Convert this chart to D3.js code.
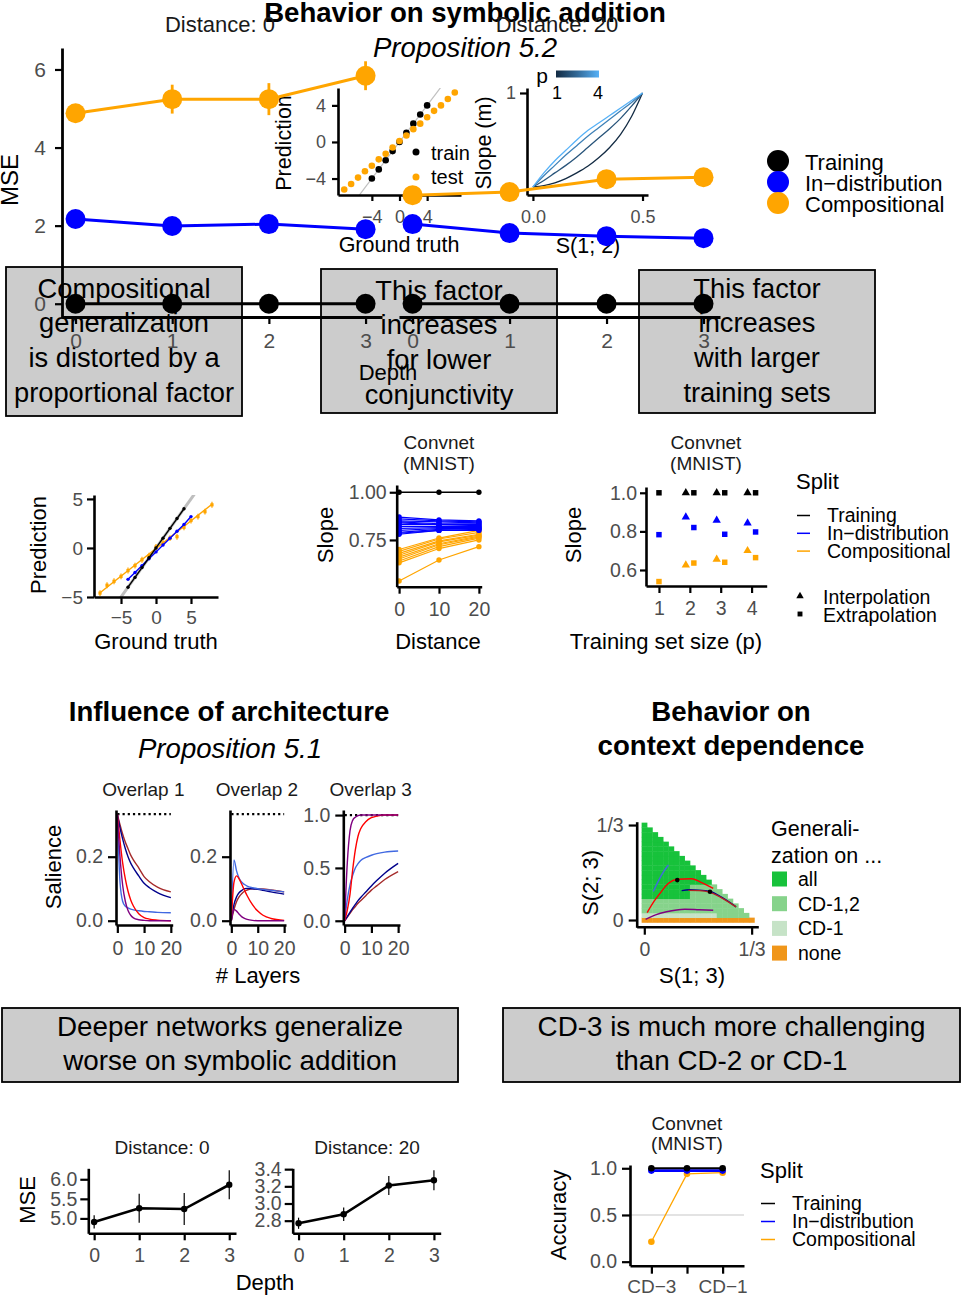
<!DOCTYPE html>
<html><head><meta charset="utf-8">
<script src="https://cdn.jsdelivr.net/npm/d3@7"></script>
<style>body{margin:0;background:#fff}svg{display:block}</style>
</head><body>
<svg id="chart" width="961" height="1295"></svg>
<script>
// ================= DATA =================
// Shared split names / colours
const splitNames = ["Training", "In−distribution", "Compositional"];
const splitCols = ["#000000", "#0000FF", "#FFA500"];

// Big (overlapping) plot: MSE by depth, two distance facets
const depthLevels = [0, 1, 2, 3];
const bigTrainD0 = [0, 0, 0, 0];
const bigIndD0 = [2.17, 1.99, 2.04, 1.91];
const bigCompD0 = [4.88, 5.24, 5.24, 5.84];
const bigCompErrD0 = [0.17, 0.37, 0.41, 0.37];
const bigTrainD20 = [0, 0, 0, 0];
const bigIndD20 = [2.04, 1.81, 1.73, 1.68];
const bigCompD20 = [2.78, 2.86, 3.19, 3.24];
const bigYTicks = [0, 2, 4, 6];
const bigFacets = ["Distance: 0", "Distance: 20"];

// Inset: prediction vs ground truth
const insTrainX = [-4, -3, -2, -1, 0, 1, 2, 3, 4];
const insTrainY = [-4, -3, -2, -1, 0, 1, 2, 3, 4];
const insTestX = [-8, -7, -6, -5, -4, -3, -2, -1, 0, 1, 2, 3, 4, 5, 6, 7, 8];
const insTestY = [-5.2, -4.6, -3.9, -3.2, -2.6, -1.9, -1.3, -0.6, 0.1, 0.7, 1.4, 2.0, 2.7, 3.4, 4.0, 4.7, 5.4];
const insTicks = [-4, 0, 4];

// Inset: slope (m) vs S(1;2), one curve per p
const pLevels = [1, 2, 3, 4];
const sVals = [0, 0.05, 0.1, 0.15, 0.2, 0.25, 0.3, 0.35, 0.4, 0.45, 0.5];
const slopeP1 = [0, 0.015, 0.045, 0.09, 0.15, 0.22, 0.31, 0.42, 0.56, 0.75, 1];
const slopeP2 = [0, 0.07, 0.15, 0.23, 0.32, 0.42, 0.52, 0.62, 0.73, 0.86, 1];
const slopeP3 = [0, 0.12, 0.23, 0.34, 0.44, 0.54, 0.63, 0.72, 0.81, 0.90, 1];
const slopeP4 = [0, 0.15, 0.28, 0.39, 0.50, 0.60, 0.68, 0.76, 0.84, 0.92, 1];

// Row 2 / row 5 boxes
const box1Lines = ["Compositional", "generalization", "is distorted by a", "proportional factor"];
const box2Lines = ["This factor", "increases", "for lower", "conjunctivity"];
const box3Lines = ["This factor", "increases", "with larger", "training sets"];
const box4Lines = ["Deeper networks generalize", "worse on symbolic addition"];
const box5Lines = ["CD-3 is much more challenging", "than CD-2 or CD-1"];

// Panel A: prediction vs ground truth (Convnet)
const aTrainX = [-4, -3, -2, -1, 0, 1, 2, 3, 4];
const aTrainY = [-4, -3, -2, -1, 0, 1, 2, 3, 4];
const aIndX = [-4, -3, -2, -1, 0, 1, 2, 3, 4, 5];
const aIndY = [-3.2, -2.5, -1.8, -1.1, -0.4, 0.3, 1.0, 1.7, 2.4, 3.2];
const aCompX = [-8, -7, -6, -5, -4, -3, -2, -1, 0, 1, 2, 3, 4, 5, 6, 7, 8];
const aCompY = [-4.6, -3.8, -3.4, -2.9, -2.3, -1.8, -1.2, -0.8, 0.1, 0.5, 1.0, 1.15, 2.1, 2.8, 3.2, 3.7, 4.4];
const aCompFitX = [-8, 8];
const aCompFitY = [-4.56, 4.46];
const aTicks = [-5, 0, 5];

// Panel B: slope vs distance (one line per run)
const distLevels = [0, 10, 20];
const bTrain = [1, 1, 1];
const bIndD0 = [0.87, 0.86, 0.85, 0.845, 0.84, 0.83, 0.82, 0.81, 0.80, 0.79, 0.785, 0.78];
const bIndD10 = [0.855, 0.85, 0.845, 0.835, 0.83, 0.83, 0.82, 0.815, 0.81, 0.805, 0.80, 0.80];
const bIndD20 = [0.85, 0.845, 0.84, 0.835, 0.83, 0.825, 0.82, 0.815, 0.81, 0.81, 0.805, 0.80];
const bCompD0 = [0.70, 0.69, 0.68, 0.67, 0.66, 0.65, 0.64, 0.63, 0.535];
const bCompD10 = [0.76, 0.755, 0.745, 0.74, 0.73, 0.725, 0.715, 0.705, 0.645];
const bCompD20 = [0.80, 0.79, 0.78, 0.775, 0.77, 0.765, 0.76, 0.75, 0.715];
const bYTicks = [0.75, 1.00];

// Panel C: slope vs training set size (interpolation / extrapolation)
const trainSizes = [1, 2, 3, 4];
const cInterpP = [2, 3, 4];
const cInterpTrain = [1, 1, 1];
const cInterpInd = [0.874, 0.857, 0.843];
const cInterpComp = [0.625, 0.655, 0.70];
const cExtrapP = [1, 2, 3, 4];
const cExtrapTrain = [1, 1, 1, 1];
const cExtrapInd = [0.783, 0.82, 0.785, 0.797];
const cExtrapComp = [0.54, 0.636, 0.64, 0.664];
const cYTicks = [0.6, 0.8, 1.0];

// Panel D: salience vs # layers (three overlaps)
const overlapNames = ["Overlap 1", "Overlap 2", "Overlap 3"];
const archCols = ["#A52A2A", "#00008B", "#4169E1", "#FF0000", "#800080"]; // brown, navy, royalblue, red, purple
const layerVals = [0, 1, 2, 3, 4, 5, 6, 8, 10, 12, 15, 20];
const ov1Brown = [0.333, 0.30, 0.27, 0.245, 0.225, 0.205, 0.19, 0.165, 0.138, 0.122, 0.105, 0.09];
const ov1Navy = [0.333, 0.29, 0.255, 0.225, 0.20, 0.18, 0.165, 0.14, 0.117, 0.103, 0.088, 0.072];
const ov1Blue = [0.333, 0.12, 0.06, 0.045, 0.04, 0.036, 0.034, 0.031, 0.029, 0.028, 0.026, 0.025];
const ov1Red = [0.333, 0.25, 0.18, 0.13, 0.092, 0.065, 0.046, 0.022, 0.01, 0.005, 0.002, 0];
const ov1Purple = [0.333, 0.20, 0.11, 0.06, 0.032, 0.017, 0.009, 0.003, 0.001, 0, 0, 0];
const ov2Brown = [0, 0.035, 0.06, 0.075, 0.085, 0.092, 0.096, 0.10, 0.10, 0.099, 0.096, 0.09];
const ov2Navy = [0, 0.05, 0.075, 0.088, 0.095, 0.10, 0.101, 0.10, 0.098, 0.095, 0.09, 0.083];
const ov2Blue = [0, 0.19, 0.155, 0.132, 0.12, 0.113, 0.108, 0.103, 0.10, 0.098, 0.095, 0.09];
const ov2Red = [0, 0.12, 0.14, 0.13, 0.113, 0.095, 0.078, 0.05, 0.03, 0.017, 0.007, 0.001];
const ov2Purple = [0, 0.035, 0.03, 0.02, 0.012, 0.007, 0.004, 0.001, 0, 0, 0, 0];
const ov3Brown = [0, 0.035, 0.07, 0.105, 0.135, 0.165, 0.19, 0.24, 0.29, 0.33, 0.39, 0.465];
const ov3Navy = [0, 0.04, 0.08, 0.12, 0.155, 0.19, 0.22, 0.275, 0.33, 0.38, 0.45, 0.543];
const ov3Blue = [0, 0.20, 0.34, 0.43, 0.50, 0.54, 0.57, 0.60, 0.62, 0.635, 0.65, 0.66];
const ov3Red = [0, 0.10, 0.25, 0.48, 0.67, 0.80, 0.87, 0.94, 0.975, 0.99, 1, 1];
const ov3Purple = [0, 0.55, 0.85, 0.95, 0.98, 0.995, 1, 1, 1, 1, 1, 1];
const ovRef = [1 / 3, 1 / 3, 1];

// Panel E: generalization regions on the S(1;3)-S(2;3) simplex (tile rows, bottom to top)
const regionNames = ["all", "CD-1,2", "CD-1", "none"];
const regionCodes = ["A", "2", "1", "N"];
const regionCols = ["#17C23B", "#86D38B", "#C6E3C7", "#F0961A"];
const tileRows = [
  "NNNNNNNNNNNNNNNNNNNNN",
  "11111111111111222222",
  "2222222222222222222",
  "222222222222222222",
  "22222222222222222",
  "AAAAAAAAA2222222",
  "AAAAAAAAA222222",
  "AAAAAAAAA22222",
  "AAAAAAAAAAAAA",
  "AAAAAAAAAAAA",
  "AAAAAAAAAAA",
  "AAAAAAAAAA",
  "AAAAAAAAA",
  "AAAAAAAA",
  "AAAAAAA",
  "AAAAAA",
  "AAAAA",
  "AAAA",
  "AAA",
  "AA",
  "A"
];
const eBlueX = [0.028, 0.045, 0.06, 0.075];
const eBlueY = [0.10, 0.14, 0.17, 0.193];
const eRedX = [0.009, 0.03, 0.049, 0.075, 0.1025, 0.147, 0.18, 0.214];
const eRedY = [0.026, 0.065, 0.094, 0.129, 0.143, 0.145, 0.13, 0.111];
const eNavyX = [0.116, 0.14, 0.17, 0.204, 0.24, 0.285];
const eNavyY = [0.103, 0.106, 0.105, 0.10, 0.08, 0.046];
const eBrownX = [0.137, 0.17, 0.204, 0.24, 0.285];
const eBrownY = [0.104, 0.103, 0.097, 0.078, 0.046];
const ePurpleX = [0.004, 0.035, 0.069, 0.126, 0.17, 0.214];
const ePurpleY = [0.002, 0.018, 0.029, 0.038, 0.036, 0.034];
const eDotX = [0.1025, 0.204];
const eDotY = [0.14, 0.099];

// Panel F: MSE by depth (small)
const fD0 = [4.91, 5.26, 5.24, 5.86];
const fD0Err = [0.17, 0.37, 0.41, 0.37];
const fD20 = [2.77, 2.875, 3.21, 3.27];
const fD20Err = [0.065, 0.078, 0.11, 0.117];
const fTicksD0 = [5.0, 5.5, 6.0];
const fTicksD20 = [2.8, 3.0, 3.2, 3.4];

// Panel G: accuracy by context-dependence level
const cdLevels = ["CD−3", "CD−2", "CD−1"];
const gTrain = [1.0, 1.0, 1.0];
const gInd = [0.975, 0.975, 0.975];
const gComp = [0.214, 0.94, 0.953];
const gYTicks = [0, 0.5, 1.0];

// ================= HELPERS =================
const FONT = '"Liberation Sans", Arial, Helvetica, sans-serif';
const svg = d3.select("#chart");
const defs = svg.append("defs");
const TICKGREY = "#4d4d4d";

function T(g, x, y, s, o = {}) {
  const t = g.append("text").attr("x", x).attr("y", y).attr("dy", "0.35em")
    .attr("text-anchor", o.a || "middle")
    .style("font-family", FONT).style("font-size", (o.s || 20) + "px")
    .style("font-weight", o.w || "normal").style("font-style", o.i ? "italic" : "normal")
    .attr("fill", o.c || "#000").text(s);
  if (o.r) t.attr("transform", `rotate(-90,${x},${y})`);
  return t;
}
function axis(g, scale, orient, pos, vals, fmt, o = {}) {
  const gen = orient === "left" ? d3.axisLeft(scale) : d3.axisBottom(scale);
  gen.tickValues(vals).tickFormat(fmt).tickSizeInner(o.tl ?? 7).tickSizeOuter(0).tickPadding(o.pad ?? 3);
  const a = g.append("g").attr("transform", orient === "left" ? `translate(${pos},0)` : `translate(0,${pos})`).call(gen);
  a.attr("font-family", null).attr("font-size", null);
  a.select(".domain").attr("stroke", "#000").attr("stroke-width", o.lw ?? 2.6).attr("fill", "none");
  a.selectAll(".tick line").attr("stroke", "#000").attr("stroke-width", o.tw ?? 2.2);
  a.selectAll(".tick text").attr("fill", TICKGREY).style("font-family", FONT).style("font-size", (o.fs || 19) + "px");
  return a;
}
function zip(xs, ys) { return xs.map((x, i) => [x, ys[i]]); }

// ================= ROW 2 BOXES =================
function box(x0, y0, x1, y1, lines, cy0, step, fs) {
  const g = svg.append("g");
  g.append("rect").attr("x", x0).attr("y", y0).attr("width", x1 - x0).attr("height", y1 - y0)
    .attr("fill", "#cccccc").attr("stroke", "#000").attr("stroke-width", 1.8);
  lines.forEach((l, i) => T(g, (x0 + x1) / 2, cy0 + i * step, l, { s: fs }));
}
box(6, 267, 242, 416, box1Lines, 288, 34.7, 27.3);
box(321, 269, 557, 413, box2Lines, 290, 34.7, 27.3);
box(639, 270, 875, 413, box3Lines, 288, 34.7, 27.3);

// ================= PANEL A =================
{
  const g = svg.append("g");
  const x = d3.scaleLinear().domain([-8.86, 8.86]).range([94, 218]);
  const y = d3.scaleLinear().domain([-5, 5.4]).range([597, 495]);
  defs.append("clipPath").attr("id", "clipA").append("rect").attr("x", 94).attr("y", 495).attr("width", 124).attr("height", 102);
  const line = d3.line().x(d => x(d[0])).y(d => y(d[1]));
  g.append("path").attr("clip-path", "url(#clipA)").attr("d", line([[-8.86, -8.86], [8.86, 8.86]]))
    .attr("stroke", "#bebebe").attr("stroke-width", 3).attr("fill", "none");
  // compositional
  g.append("path").attr("d", line(zip(aCompFitX, aCompFitY))).attr("stroke", splitCols[2]).attr("stroke-width", 1.4).attr("fill", "none");
  zip(aCompX, aCompY).forEach(d => {
    g.append("line").attr("x1", x(d[0])).attr("x2", x(d[0])).attr("y1", y(d[1] - 0.3)).attr("y2", y(d[1] + 0.3)).attr("stroke", splitCols[2]).attr("stroke-width", 1.2);
    g.append("rect").attr("x", x(d[0]) - 1.6).attr("y", y(d[1]) - 1.6).attr("width", 3.2).attr("height", 3.2).attr("fill", splitCols[2]);
  });
  // in-distribution
  g.append("path").attr("d", line(zip(aIndX, aIndY))).attr("stroke", splitCols[1]).attr("stroke-width", 1.4).attr("fill", "none");
  zip(aIndX, aIndY).forEach(d => g.append("circle").attr("cx", x(d[0])).attr("cy", y(d[1])).attr("r", 1.7).attr("fill", splitCols[1]));
  // training
  g.append("path").attr("d", line(zip(aTrainX, aTrainY))).attr("stroke", splitCols[0]).attr("stroke-width", 1.4).attr("fill", "none");
  zip(aTrainX, aTrainY).forEach(d => g.append("circle").attr("cx", x(d[0])).attr("cy", y(d[1])).attr("r", 1.7).attr("fill", splitCols[0]));
  axis(g, y, "left", 94, aTicks, d => d3.format("")(d).replace("-", "−"), { tl: 7, pad: 4 });
  axis(g, x, "bottom", 597, aTicks, d => d3.format("")(d).replace("-", "−"), { tl: 7, pad: 7 });
  T(g, 38, 545, "Prediction", { s: 22, r: true });
  T(g, 156, 641, "Ground truth", { s: 22 });
}

// ================= PANEL B =================
{
  const g = svg.append("g");
  const x = d3.scaleLinear().domain([-0.6, 20.7]).range([396.7, 481.7]);
  const y = d3.scaleLinear().domain([0.505, 1.038]).range([586.7, 485]);
  const line = d3.line().x(d => x(d[0])).y(d => y(d[1]));
  function run(vals, col, lw) {
    g.append("path").attr("d", line(zip(distLevels, vals))).attr("stroke", col).attr("stroke-width", lw).attr("fill", "none");
    vals.forEach((v, i) => g.append("circle").attr("cx", x(distLevels[i])).attr("cy", y(v)).attr("r", 2.7).attr("fill", col));
  }
  bCompD0.forEach((v, k) => run([bCompD0[k], bCompD10[k], bCompD20[k]], splitCols[2], 1.2));
  bIndD0.forEach((v, k) => run([bIndD0[k], bIndD10[k], bIndD20[k]], splitCols[1], 1.2));
  run(bTrain, splitCols[0], 1.4);
  axis(g, y, "left", 396.7, bYTicks, d3.format(".2f"), { tl: 7, pad: 3, fs: 19.5 });
  axis(g, x, "bottom", 586.7, distLevels, d3.format(""), { tl: 7, pad: 8, fs: 19.5 });
  T(g, 439, 442, "Convnet", { s: 19, c: "#1a1a1a" });
  T(g, 439, 463, "(MNIST)", { s: 19, c: "#1a1a1a" });
  T(g, 325, 535, "Slope", { s: 22, r: true });
  T(g, 438, 641, "Distance", { s: 22 });
}

// ================= PANEL C =================
{
  const g = svg.append("g");
  const x = d3.scaleLinear().domain([0.58, 4.49]).range([646, 766.7]);
  const y = d3.scaleLinear().domain([0.517, 1.03]).range([586, 487]);
  const tri = d3.symbol(d3.symbolTriangle, 30);
  const sq = d3.symbol(d3.symbolSquare, 30);
  const dodge = 0.13;
  [cInterpTrain, cInterpInd, cInterpComp].forEach((arr, s) => arr.forEach((v, i) =>
    g.append("path").attr("d", tri()).attr("transform", `translate(${x(cInterpP[i] - dodge)},${y(v)})`).attr("fill", splitCols[s])));
  [cExtrapTrain, cExtrapInd, cExtrapComp].forEach((arr, s) => arr.forEach((v, i) => {
    const p = cExtrapP[i];
    const xx = cInterpP.includes(p) ? p + dodge : p;
    g.append("path").attr("d", sq()).attr("transform", `translate(${x(xx)},${y(v)})`).attr("fill", splitCols[s]);
  }));
  axis(g, y, "left", 646, cYTicks, d3.format(".1f"), { tl: 6, pad: 3, fs: 19.5 });
  axis(g, x, "bottom", 586, trainSizes, d3.format(""), { tl: 7, pad: 8, fs: 19.5 });
  T(g, 706, 442, "Convnet", { s: 19, c: "#1a1a1a" });
  T(g, 706, 463, "(MNIST)", { s: 19, c: "#1a1a1a" });
  T(g, 573, 535, "Slope", { s: 22, r: true });
  T(g, 666, 641, "Training set size (p)", { s: 22 });
  // legend
  T(g, 796, 481, "Split", { s: 22, a: "start" });
  splitNames.forEach((n, i) => {
    const yy = 515.5 + i * 17.8;
    g.append("line").attr("x1", 797).attr("x2", 810).attr("y1", yy).attr("y2", yy).attr("stroke", splitCols[i]).attr("stroke-width", 1.5);
    T(g, 827, yy, n, { s: 19.5, a: "start" });
  });
  g.append("path").attr("d", d3.symbol(d3.symbolTriangle, 24)()).attr("transform", "translate(800,596)").attr("fill", "#000");
  T(g, 823, 597, "Interpolation", { s: 19.5, a: "start" });
  g.append("path").attr("d", d3.symbol(d3.symbolSquare, 24)()).attr("transform", "translate(800,614)").attr("fill", "#000");
  T(g, 823, 615, "Extrapolation", { s: 19.5, a: "start" });
}

// ================= PANEL D =================
{
  const g = svg.append("g");
  T(g, 229, 711, "Influence of architecture", { s: 27.6, w: "bold" });
  T(g, 230, 748, "Proposition 5.1", { s: 27.6, i: true });
  const xr = [[116, 172.7], [230, 286], [343.3, 400]];
  const yd = [[-0.0134, 0.346], [-0.0134, 0.346], [-0.04, 1.048]];
  const curves = [
    [ov1Brown, ov1Navy, ov1Blue, ov1Red, ov1Purple],
    [ov2Brown, ov2Navy, ov2Blue, ov2Red, ov2Purple],
    [ov3Brown, ov3Navy, ov3Blue, ov3Red, ov3Purple]
  ];
  const yTicks = [[0, 0.2], [0, 0.2], [0, 0.5, 1.0]];
  overlapNames.forEach((nm, f) => {
    const x = d3.scaleLinear().domain([-0.5, 20.7]).range(xr[f]);
    const y = d3.scaleLinear().domain(yd[f]).range([925, 810]);
    const line = d3.line().x(d => x(d[0])).y(d => y(d[1])).curve(d3.curveMonotoneX);
    g.append("line").attr("x1", x(0)).attr("x2", x(20)).attr("y1", y(ovRef[f])).attr("y2", y(ovRef[f]))
      .attr("stroke", "#000").attr("stroke-width", 2.2).attr("stroke-dasharray", "2.2,3");
    [0, 1, 2, 3, 4].forEach(c => g.append("path").attr("d", line(zip(layerVals, curves[f][c])))
      .attr("stroke", archCols[c]).attr("stroke-width", 1.4).attr("fill", "none"));
    axis(g, y, "left", xr[f][0], yTicks[f], d3.format(".1f"), { tl: 8, pad: 5, fs: 19.5 });
    axis(g, x, "bottom", 925, [0, 10, 20], d3.format(""), { tl: 8, pad: 8, fs: 19.5 });
    T(g, (xr[f][0] + xr[f][1]) / 2 - 1, 789, nm, { s: 19, c: "#1a1a1a" });
  });
  T(g, 53, 867, "Salience", { s: 22, r: true });
  T(g, 258, 975, "# Layers", { s: 22 });
}

// ================= PANEL E =================
{
  const g = svg.append("g");
  T(g, 731, 711, "Behavior on", { s: 27.6, w: "bold" });
  T(g, 731, 745, "context dependence", { s: 27.6, w: "bold" });
  const x = d3.scaleLinear().domain([-0.0236, 0.354]).range([636.7, 758.3]);
  const y = d3.scaleLinear().domain([-0.0256, 0.345]).range([927.3, 821.7]);
  const h = 1 / 120;
  tileRows.forEach((row, j) => {
    row.split("").forEach((code, i) => {
      const cx = i / 60, cy = j / 60;
      const col = regionCols[regionCodes.indexOf(code)];
      g.append("rect").attr("x", x(cx - h)).attr("y", y(cy + h)).attr("width", x(cx + h) - x(cx - h) + 0.4)
        .attr("height", y(cy - h) - y(cy + h) + 0.4).attr("fill", col);
    });
  });
  const line = d3.line().x(d => x(d[0])).y(d => y(d[1])).curve(d3.curveMonotoneX);
  const eLines = [[eBlueX, eBlueY, "#4169E1"], [eRedX, eRedY, "#FF0000"], [eNavyX, eNavyY, "#00008B"], [eBrownX, eBrownY, "#B22222"], [ePurpleX, ePurpleY, "#800080"]];
  eLines.forEach(l => g.append("path").attr("d", line(zip(l[0], l[1]))).attr("stroke", l[2]).attr("stroke-width", 1.4).attr("fill", "none"));
  zip(eDotX, eDotY).forEach(d => g.append("circle").attr("cx", x(d[0])).attr("cy", y(d[1])).attr("r", 2.3).attr("fill", "#000"));
  axis(g, y, "left", 636.7, [0, 1 / 3], d => d === 0 ? "0" : "1/3", { tl: 8, pad: 5, fs: 19.5 });
  axis(g, x, "bottom", 926.7, [0, 1 / 3], d => d === 0 ? "0" : "1/3", { tl: 8, pad: 7, fs: 19.5 });
  T(g, 590, 883, "S(2; 3)", { s: 22, r: true });
  T(g, 692, 975, "S(1; 3)", { s: 22 });
  T(g, 771, 828, "Generali-", { s: 21.5, a: "start" });
  T(g, 771, 855, "zation on ...", { s: 21.5, a: "start" });
  regionNames.forEach((n, i) => {
    const yy = 879 + i * 24.7;
    g.append("rect").attr("x", 772).attr("y", yy - 7.5).attr("width", 15).attr("height", 15).attr("fill", regionCols[i]);
    T(g, 798, yy, n, { s: 19.5, a: "start" });
  });
}

// ================= ROW 5 BOXES =================
box(2, 1008, 458, 1082, box4Lines, 1026, 34, 27.8);
box(503, 1008, 960, 1082, box5Lines, 1026, 34, 27.8);

// ================= PANEL F =================
{
  const g = svg.append("g");
  const facets = [
    { xr: [88.3, 236], yd: [4.62, 6.28], v: fD0, e: fD0Err, ticks: fTicksD0, fmt: d3.format(".1f"), name: "Distance: 0", cx: 162 },
    { xr: [292.7, 440.7], yd: [2.653, 3.41], v: fD20, e: fD20Err, ticks: fTicksD20, fmt: d3.format(".1f"), name: "Distance: 20", cx: 367 }
  ];
  facets.forEach(f => {
    const x = d3.scaleLinear().domain([-0.13, 3.15]).range(f.xr);
    const y = d3.scaleLinear().domain(f.yd).range([1233.3, 1168.3]);
    f.v.forEach((v, i) => g.append("line").attr("x1", x(depthLevels[i])).attr("x2", x(depthLevels[i]))
      .attr("y1", y(v - f.e[i])).attr("y2", y(v + f.e[i])).attr("stroke", "#000").attr("stroke-width", 1.2));
    g.append("path").attr("d", d3.line().x(d => x(d[0])).y(d => y(d[1]))(zip(depthLevels, f.v)))
      .attr("stroke", "#000").attr("stroke-width", 2.6).attr("fill", "none");
    f.v.forEach((v, i) => g.append("circle").attr("cx", x(depthLevels[i])).attr("cy", y(v)).attr("r", 3.2).attr("fill", "#000"));
    axis(g, y, "left", f.xr[0], f.ticks, f.fmt, { tl: 8, pad: 3, fs: 19.5 });
    axis(g, x, "bottom", 1233.3, depthLevels, d3.format(""), { tl: 7, pad: 8, fs: 19.5 });
    T(g, f.cx, 1147, f.name, { s: 19, c: "#1a1a1a" });
  });
  T(g, 27, 1200, "MSE", { s: 22, r: true });
  T(g, 265, 1282, "Depth", { s: 22 });
}

// ================= PANEL G =================
{
  const g = svg.append("g");
  const x = d3.scalePoint().domain(cdLevels).range([630, 744]).padding(0.6);
  const y = d3.scaleLinear().domain([-0.043, 1.035]).range([1265.7, 1165]);
  g.append("line").attr("x1", 630).attr("x2", 744).attr("y1", y(0.5)).attr("y2", y(0.5)).attr("stroke", "#c8c8c8").attr("stroke-width", 1.2);
  const line = d3.line().x(d => x(d[0])).y(d => y(d[1]));
  [[gComp, 2, 1.3], [gInd, 1, 2.6], [gTrain, 0, 2]].forEach(([vals, s, lw]) => {
    g.append("path").attr("d", line(zip(cdLevels, vals))).attr("stroke", splitCols[s]).attr("stroke-width", lw).attr("fill", "none");
    vals.forEach((v, i) => g.append("circle").attr("cx", x(cdLevels[i])).attr("cy", y(v)).attr("r", 3.3).attr("fill", splitCols[s]));
  });
  axis(g, y, "left", 630, gYTicks, d3.format(".1f"), { tl: 8, pad: 5, fs: 19.5 });
  axis(g, x, "bottom", 1265.7, cdLevels, d => d === "CD−2" ? "" : d, { tl: 8, pad: 6, fs: 19 });
  T(g, 687, 1123, "Convnet", { s: 19, c: "#1a1a1a" });
  T(g, 687, 1143, "(MNIST)", { s: 19, c: "#1a1a1a" });
  T(g, 558, 1215, "Accuracy", { s: 22, r: true });
  T(g, 760, 1170, "Split", { s: 22, a: "start" });
  splitNames.forEach((n, i) => {
    const yy = 1203.5 + i * 18;
    g.append("line").attr("x1", 761).attr("x2", 775).attr("y1", yy).attr("y2", yy).attr("stroke", splitCols[i]).attr("stroke-width", 1.5);
    T(g, 792, yy, n, { s: 19.5, a: "start" });
  });
}

// ================= INSET 1: prediction vs ground truth =================
{
  const g = svg.append("g");
  const x = d3.scaleLinear().domain([-8.9, 8.9]).range([338, 461]);
  const y = d3.scaleLinear().domain([-5.8, 5.9]).range([195, 88]);
  defs.append("clipPath").attr("id", "clipI1").append("rect").attr("x", 338).attr("y", 88).attr("width", 123).attr("height", 107);
  g.append("path").attr("clip-path", "url(#clipI1)").attr("d", d3.line().x(d => x(d[0])).y(d => y(d[1]))([[-8.9, -8.9], [8.9, 8.9]]))
    .attr("stroke", "#c0c0c0").attr("stroke-width", 1.2).attr("fill", "none");
  zip(insTrainX, insTrainY).forEach(d => g.append("circle").attr("cx", x(d[0])).attr("cy", y(d[1])).attr("r", 3.3).attr("fill", "#000"));
  zip(insTestX, insTestY).forEach(d => g.append("circle").attr("cx", x(d[0])).attr("cy", y(d[1])).attr("r", 3.3).attr("fill", "#FFA500"));
  axis(g, y, "left", 338, insTicks, d => d3.format("")(d).replace("-", "−"), { tl: 6, pad: 6, fs: 18 });
  axis(g, x, "bottom", 195, insTicks, d => d3.format("")(d).replace("-", "−"), { tl: 6, pad: 9, fs: 18 });
  T(g, 283, 143, "Prediction", { s: 21.5, r: true });
  T(g, 399, 244, "Ground truth", { s: 21.5 });
  g.append("circle").attr("cx", 416).attr("cy", 152).attr("r", 3.5).attr("fill", "#000");
  T(g, 431, 153, "train", { s: 20, a: "start" });
  g.append("circle").attr("cx", 416).attr("cy", 177).attr("r", 3.5).attr("fill", "#FFA500");
  T(g, 431, 177, "test", { s: 20, a: "start" });
}

// ================= INSET 2: slope vs S(1;2) =================
{
  const g = svg.append("g");
  const x = d3.scaleLinear().domain([-0.027, 0.525]).range([527, 648]);
  const y = d3.scaleLinear().domain([-0.085, 1.053]).range([195, 88]);
  const pcol = d3.scaleLinear().domain([1, 4]).range(["#132B43", "#56B1F7"]).interpolate(d3.interpolateLab);
  const line = d3.line().x(d => x(d[0])).y(d => y(d[1])).curve(d3.curveMonotoneX);
  [slopeP1, slopeP2, slopeP3, slopeP4].forEach((arr, k) =>
    g.append("path").attr("d", line(zip(sVals, arr))).attr("stroke", pcol(pLevels[k])).attr("stroke-width", 1.3).attr("fill", "none"));
  axis(g, y, "left", 527, [1], d3.format(""), { tl: 7, pad: 4, fs: 18 });
  axis(g, x, "bottom", 195, [0, 0.5], d3.format(".1f"), { tl: 6, pad: 9, fs: 18 });
  T(g, 483, 143, "Slope (m)", { s: 21.5, r: true });
  T(g, 588, 245, "S(1; 2)", { s: 21.5 });
  const grad = defs.append("linearGradient").attr("id", "pgrad");
  grad.append("stop").attr("offset", "0%").attr("stop-color", pcol(1));
  grad.append("stop").attr("offset", "50%").attr("stop-color", pcol(2.5));
  grad.append("stop").attr("offset", "100%").attr("stop-color", pcol(4));
  const cb = d3.scaleLinear().domain([1, 4]).range([557, 598]);
  g.append("rect").attr("x", cb(1) - 1).attr("y", 70.5).attr("width", cb(4) - cb(1) + 2).attr("height", 7).attr("fill", "url(#pgrad)");
  T(g, 542, 76, "p", { s: 21 });
  [1, 4].forEach(v => T(g, cb(v), 93, String(v), { s: 18 }));
}

// ================= BIG OVERLAPPING PLOT (drawn last) =================
{
  const g = svg.append("g");
  T(g, 465, 12, "Behavior on symbolic addition", { s: 27.6, w: "bold" });
  T(g, 465, 47, "Proposition 5.2", { s: 27.6, i: true });
  const y = d3.scaleLinear().domain([-0.34, 6.55]).range([317, 48]);
  const facets = [
    { xr: [62, 382], tr: bigTrainD0, ind: bigIndD0, comp: bigCompD0, err: bigCompErrD0, name: bigFacets[0], cx: 220 },
    { xr: [399, 720], tr: bigTrainD20, ind: bigIndD20, comp: bigCompD20, err: null, name: bigFacets[1], cx: 557 }
  ];
  facets.forEach(f => {
    const x = d3.scaleLinear().domain([-0.14, 3.17]).range(f.xr);
    const line = d3.line().x(d => x(d[0])).y(d => y(d[1]));
    axis(g, x, "bottom", 317, depthLevels, d3.format(""), { tl: 7, pad: 9, fs: 21, lw: 2.8 });
    if (f.err) f.comp.forEach((v, i) => g.append("line").attr("x1", x(depthLevels[i])).attr("x2", x(depthLevels[i]))
      .attr("y1", y(v - f.err[i])).attr("y2", y(v + f.err[i])).attr("stroke", splitCols[2]).attr("stroke-width", 2.8));
    [[f.tr, 0], [f.ind, 1], [f.comp, 2]].forEach(([vals, s]) => {
      g.append("path").attr("d", line(zip(depthLevels, vals))).attr("stroke", splitCols[s]).attr("stroke-width", 3).attr("fill", "none");
      vals.forEach((v, i) => g.append("circle").attr("cx", x(depthLevels[i])).attr("cy", y(v)).attr("r", 10).attr("fill", splitCols[s]));
    });
    T(g, f.cx, 24, f.name, { s: 22, c: "#1a1a1a" });
  });
  axis(g, y, "left", 62, bigYTicks, d3.format(""), { tl: 7, pad: 9, fs: 21, lw: 2.8 });
  T(g, 10, 180, "MSE", { s: 24, r: true });
  T(g, 388, 372, "Depth", { s: 22 });
  splitNames.forEach((n, i) => {
    const yy = 161 + i * 21;
    g.append("circle").attr("cx", 778).attr("cy", yy).attr("r", 11).attr("fill", splitCols[i]);
    T(g, 805, yy + 1, n, { s: 22, a: "start" });
  });
}
</script>
</body></html>
